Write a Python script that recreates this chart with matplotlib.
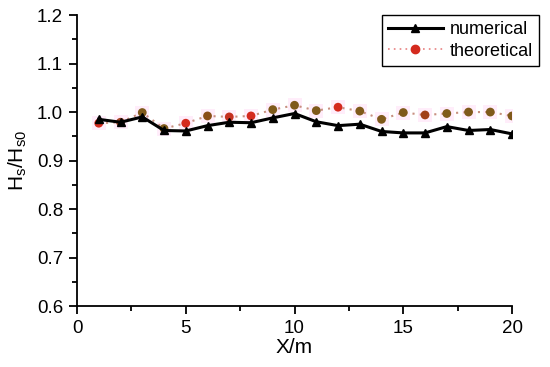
import numpy as np
from matplotlib import pyplot as plt
from matplotlib.ticker import MultipleLocator
from matplotlib.lines import Line2D

plt.rcParams['font.family'] = ['Liberation Sans', 'DejaVu Sans']

# data
x = [1, 2, 3, 4, 5, 6, 7, 8, 9, 10, 11, 12, 13, 14, 15, 16, 17, 18, 19, 20]
numerical = [0.985, 0.979, 0.990, 0.962, 0.961, 0.972, 0.979, 0.978, 0.988, 0.997,
             0.980, 0.972, 0.975, 0.960, 0.957, 0.957, 0.970, 0.962, 0.964, 0.955]
theoretical = [0.977, 0.979, 0.999, 0.966, 0.977, 0.992, 0.990, 0.992, 1.005, 1.014,
               1.003, 1.010, 1.002, 0.985, 0.999, 0.994, 0.997, 1.000, 1.000, 0.992]
theo_colors = ['#d42a1e', '#a0401e', '#7f5a1a', '#7f5a1a', '#d42a1e', '#8a5018',
               '#c43020', '#d42a1e', '#7f5a1a', '#7f5a1a', '#7f5a1a', '#d42a1e',
               '#7f5a1a', '#7f5a1a', '#7f5a1a', '#a04018', '#7f5a1a', '#7f5a1a',
               '#7f5a1a', '#7f5a1a']

fig = plt.figure(figsize=(5.5, 3.67), dpi=100)
ax = fig.add_axes([0.14, 0.166, 0.791, 0.793])

# theoretical: dotted line with a faint pink halo behind the dots
ax.plot(x, theoretical, ls=(0, (1, 2.5)), color='#c89080', lw=1.5, zorder=2)
ax.scatter(x, theoretical, marker='s', s=110, color='#ffd8f4', alpha=0.45, lw=0, zorder=1)
ax.scatter(x, theoretical, marker='o', s=40, c=theo_colors, lw=0, zorder=3)

# numerical
ax.plot(x, numerical, color='black', lw=2.2, marker='^', ms=6, zorder=4)

ax.set_xlim(0, 20)
ax.set_ylim(0.6, 1.2)
ax.xaxis.set_major_locator(MultipleLocator(5))
ax.xaxis.set_minor_locator(MultipleLocator(2.5))
ax.yaxis.set_major_locator(MultipleLocator(0.1))
ax.yaxis.set_minor_locator(MultipleLocator(0.05))
ax.yaxis.set_major_formatter(plt.FormatStrFormatter('%.1f'))
ax.spines['top'].set_visible(False)
ax.spines['right'].set_visible(False)
ax.spines['left'].set_linewidth(1.3)
ax.spines['bottom'].set_linewidth(1.3)
ax.tick_params(which='major', direction='out', length=6, width=1.3, labelsize=13.5, pad=4)
ax.tick_params(which='minor', direction='out', length=3.5, width=1.3)
ax.set_xlabel('X/m', fontsize=15, labelpad=1)
ax.set_ylabel(r'H$_\mathregular{s}$/H$_\mathregular{s0}$', fontsize=15, labelpad=6)

# legend handles
h1 = Line2D([], [], color='black', lw=2.2, marker='^', ms=6)
h2 = Line2D([], [], color='#e88080', lw=1.2, ls=(0, (1, 2.5)), marker='o', ms=6,
            mfc='#d42a1e', mec='#d42a1e')
leg = fig.legend([h1, h2], ['numerical', 'theoretical'], loc='upper right',
                 bbox_to_anchor=(0.997, 0.984), fontsize=13, fancybox=False,
                 edgecolor='black', framealpha=1, handlelength=3.0,
                 borderpad=0.35, labelspacing=0.25, handletextpad=0.4)
leg.get_frame().set_linewidth(1.0)

plt.savefig('out.png', dpi=100)
